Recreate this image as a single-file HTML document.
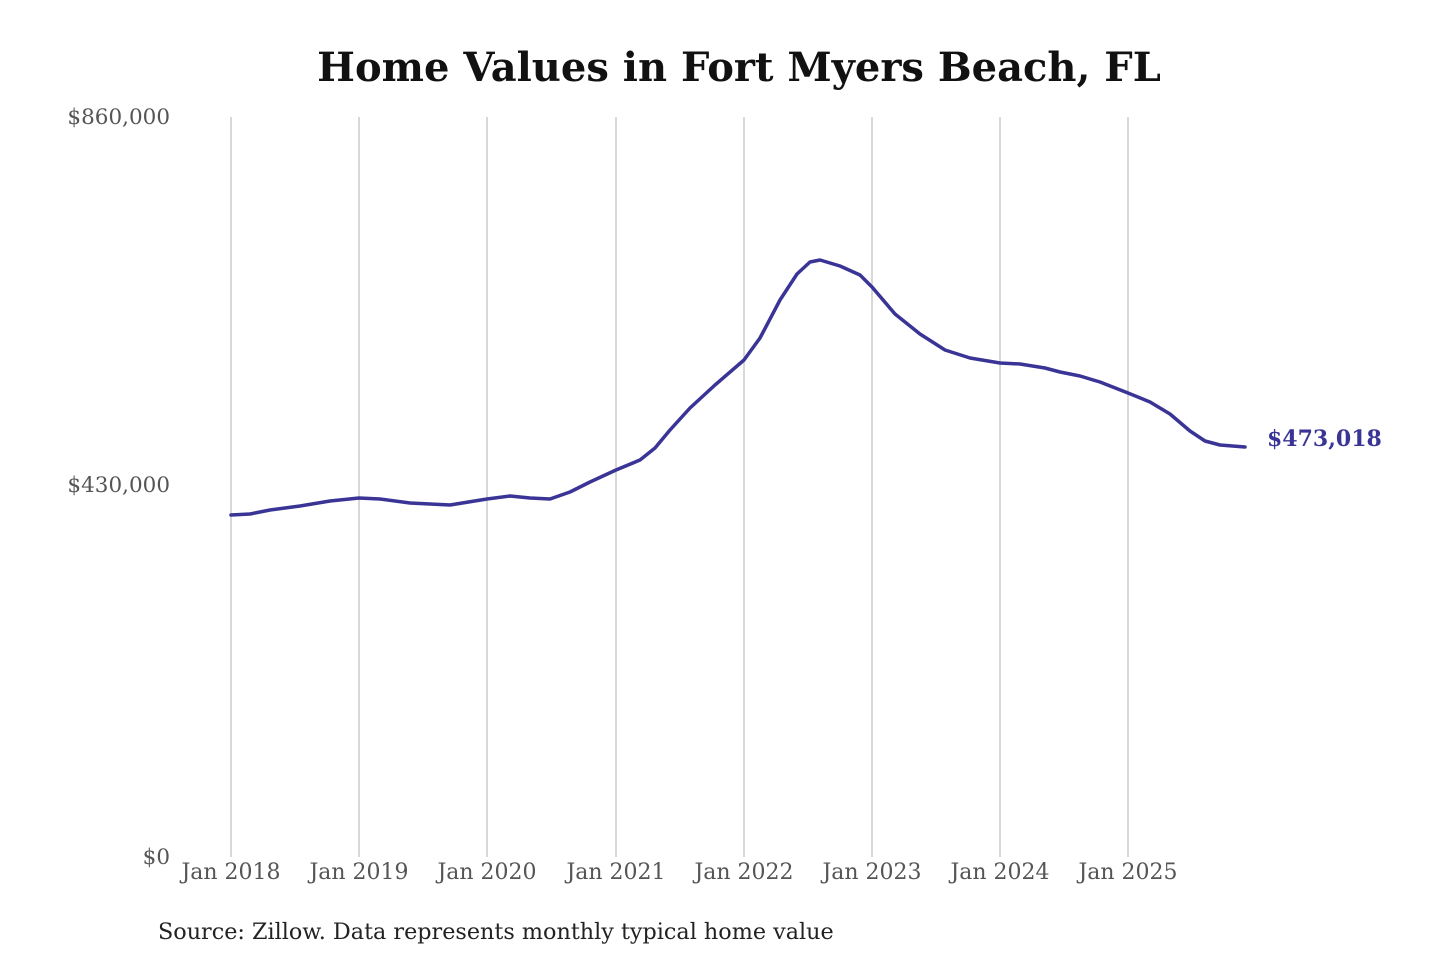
<!DOCTYPE html>
<html><head><meta charset="utf-8"><style>
html,body{margin:0;padding:0;background:#fff;}
body{width:1440px;height:960px;overflow:hidden;}
</style></head><body>
<svg width="1440" height="960" viewBox="0 0 1440 960" xmlns="http://www.w3.org/2000/svg" font-family="'DejaVu Serif','Liberation Serif',serif">
<text x="739" y="81" text-anchor="middle" font-size="40" font-weight="bold" fill="#111">Home Values in Fort Myers Beach, FL</text>
<g stroke="#bdbdbd" stroke-width="1.2">
<line x1="231" y1="117" x2="231" y2="857"/>
<line x1="359" y1="117" x2="359" y2="857"/>
<line x1="487" y1="117" x2="487" y2="857"/>
<line x1="616" y1="117" x2="616" y2="857"/>
<line x1="744" y1="117" x2="744" y2="857"/>
<line x1="872" y1="117" x2="872" y2="857"/>
<line x1="1000" y1="117" x2="1000" y2="857"/>
<line x1="1128" y1="117" x2="1128" y2="857"/>
</g>
<g font-size="21.5" fill="#555" text-anchor="end">
<text x="170" y="124">$860,000</text>
<text x="170" y="492">$430,000</text>
<text x="170" y="864">$0</text>
</g>
<g font-size="22" fill="#555" text-anchor="middle">
<text x="231" y="879">Jan 2018</text>
<text x="359" y="879">Jan 2019</text>
<text x="487" y="879">Jan 2020</text>
<text x="616" y="879">Jan 2021</text>
<text x="744" y="879">Jan 2022</text>
<text x="872" y="879">Jan 2023</text>
<text x="1000" y="879">Jan 2024</text>
<text x="1128" y="879">Jan 2025</text>
</g>
<polyline fill="none" stroke="#3a3496" stroke-width="3.5" stroke-linejoin="round" stroke-linecap="round"
points="231,515 250,514 270,510 300,506 330,501 359,498 380,499 410,503 450,505 487,499 510,496 530,498 550,499 570,492 590,482 616,470 640,460 655,448 670,430 690,408 715,385 744,360 760,338 780,300 797,274 810,262 820,260 840,266 860,275 872,287 895,314 920,334 945,350 970,358 1000,363 1020,364 1045,368 1060,372 1080,376 1100,382 1128,393 1150,402 1170,414 1190,431 1205,441 1220,445 1245,447"/>
<text x="1267" y="446" font-size="22" font-weight="bold" fill="#3a3496">$473,018</text>
<text x="158" y="939" font-size="22.3" fill="#222">Source: Zillow. Data represents monthly typical home value</text>
</svg>
</body></html>
